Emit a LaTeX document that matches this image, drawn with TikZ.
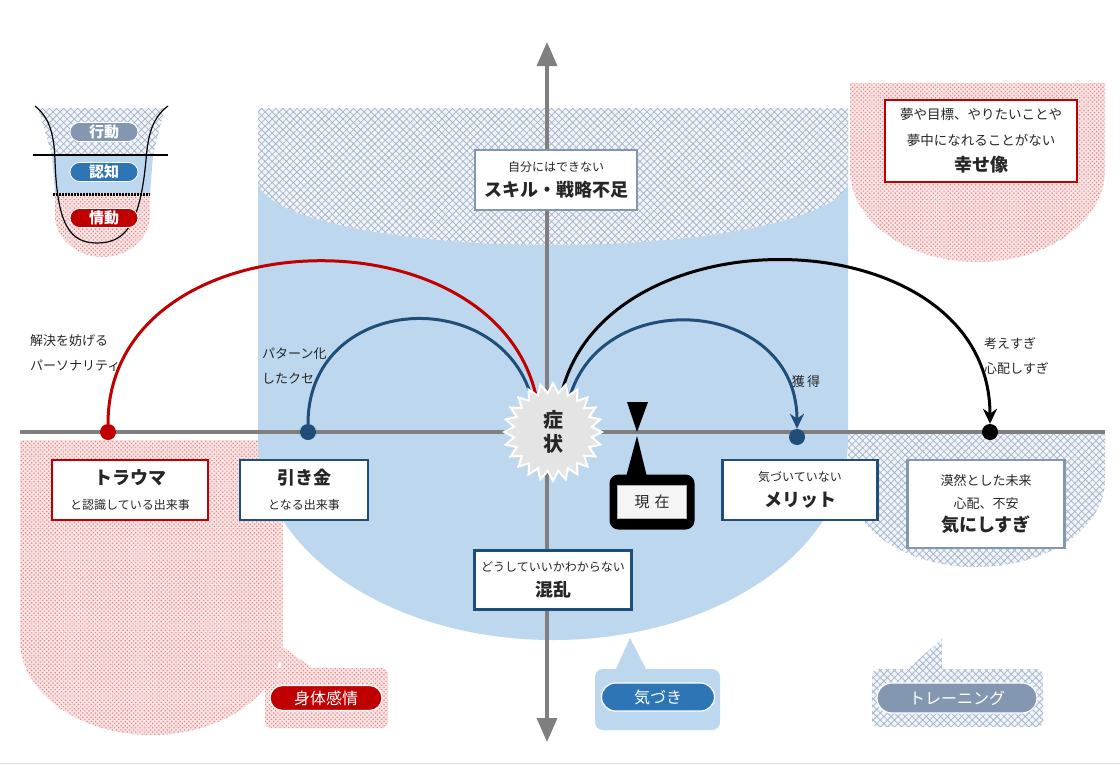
\documentclass[tikz,border=0pt]{standalone}
\usepackage{fontspec}
\setmainfont{Noto Sans CJK JP}
\usetikzlibrary{shapes.geometric,shapes.misc,patterns.meta,arrows.meta}

\definecolor{lblue}{HTML}{BDD7EE}
\definecolor{navy}{HTML}{1F4E79}
\definecolor{darkred}{HTML}{C00000}
\definecolor{slate}{HTML}{8497B0}
\definecolor{pillblue}{HTML}{2E75B6}
\definecolor{axisgray}{HTML}{7F7F7F}
\definecolor{txt}{HTML}{262626}
\definecolor{hatchbg}{HTML}{F1F4F8}
\definecolor{hatchln}{HTML}{A9B8CC}
\definecolor{pinkbg}{HTML}{F9E3E3}
\definecolor{pinkdot}{HTML}{DE8585}
\definecolor{burstgray}{HTML}{E4E4E4}

\newcommand{\subtxt}{\fontsize{12}{15}\selectfont}
\newcommand{\headtxt}{\fontsize{18}{22}\selectfont\bfseries}

\tikzset{
  slatepat/.style={preaction={fill=hatchbg}, pattern={Hatch[angle=45,distance=5pt,line width=0.8pt]}, pattern color=hatchln},
  pinkpat/.style={preaction={fill=pinkbg}, pattern={Dots[angle=45,distance=3pt,radius=0.85pt]}, pattern color=pinkdot},
  box/.style={draw=#1, line width=2.5pt, fill=white, align=center, inner sep=0pt, text=txt, font=\fontsize{12}{25}\selectfont},
  lab/.style={align=left, inner sep=0pt, text=txt, font=\fontsize{13}{25}\selectfont},
  dot/.style={circle, fill=#1, minimum size=16pt, inner sep=0pt},
  axis/.style={draw=axisgray, line width=3.5pt},
  arcline/.style={draw=#1, line width=3pt},
  burst/.style={star, star points=24, star point ratio=1.25, minimum size=98pt, fill=burstgray, draw=white, line width=2pt, align=center, inner sep=0pt, text=txt, font=\fontsize{20}{24}\selectfont\bfseries},
  pill/.style={rounded rectangle, fill=#1, draw=white, line width=1.2pt, inner sep=0pt, text=white, font=\fontsize{16}{16}\selectfont},
  minipill/.style={rounded rectangle, fill=#1, draw=white, line width=0.8pt, minimum width=68pt, minimum height=19pt, inner sep=0pt, text=white, font=\fontsize{15}{15}\selectfont\bfseries}
}

\begin{document}
\begin{tikzpicture}[x=1pt,y=-1pt]
\useasboundingbox (0,0) rectangle (1120,766);
\draw[gray!25] (0,763) -- (1120,763);

\fill[pinkpat] (20,440) -- (283,440) -- (283,640) arc[start angle=0,end angle=180,x radius=131.5,y radius=95] -- cycle;
\fill[pinkpat] (850,83) -- (1105,83) -- (1105,170) arc[start angle=0,end angle=180,x radius=127.5,y radius=92] -- cycle;
\fill[slatepat] (848,432) -- (1105,432) -- (1105,480) arc[start angle=0,end angle=180,x radius=128.5,y radius=87] -- cycle;

\fill[lblue] (258,108) -- (848,108) -- (848,440) arc[start angle=0,end angle=180,x radius=295,y radius=200] -- cycle;
\fill[slatepat] (258,108) -- (848,108) -- (848,180) arc[start angle=0,end angle=180,x radius=295,y radius=65] -- cycle;

\fill[slatepat] (38,108) -- (165,108) -- (153,155) -- (52,155) -- cycle;
\fill[lblue] (52,155) -- (153,155) -- (150,193) -- (55,193) -- cycle;
\fill[pinkpat] (55,193) -- (150,193) -- (150,215) arc[start angle=0,end angle=180,x radius=47.5,y radius=42] -- cycle;
\draw[line width=1.2pt] (35,106) .. controls (50,118) and (54,135) .. (55,160) .. controls (57,225) and (70,243) .. (97,243) .. controls (125,243) and (140,225) .. (146,160) .. controls (148,135) and (152,118) .. (168,106);
\draw[line width=1.2pt] (33,155) -- (168,155);
\draw[line width=3pt, dash pattern=on 2pt off 1pt] (53,194) -- (150,194);
\node[minipill=slate] (act) at (104,132) {行動};
\node[minipill=pillblue] (cog) at (104,172) {認知};
\node[minipill=darkred] (emo) at (104,218) {情動};

\coordinate (xl) at (20,432);
\coordinate (xr) at (1105,432);
\coordinate (yt) at (547,42);
\coordinate (yb) at (547,742);
\draw[axis] (xl) -- (xr);
\draw[axis, {Triangle[length=24pt,width=20pt]}-{Triangle[length=24pt,width=20pt]}] (yt) -- (yb);

\node[dot=darkred] (tdot) at (108,432) {};
\node[dot=navy] (kdot) at (308,432) {};
\node[dot=navy] (mdot) at (797,437) {};
\node[dot=black] (fdot) at (990,432) {};

\coordinate (rs) at (540,432);
\coordinate (ks) at (536,432);
\coordinate (bs) at (557,432);
\coordinate (ms) at (565,432);

\draw[arcline=darkred] (tdot) .. controls +(0,-227) and +(0,-227) .. (rs);
\draw[arcline=navy] (kdot) .. controls +(0,-150) and +(0,-150) .. (ks);
\draw[arcline=black, -{Stealth[length=15pt,width=14pt]}] (bs) .. controls +(0,-227) and +(0,-227) .. (fdot);
\draw[arcline=navy, -{Stealth[length=15pt,width=14pt]}] (ms) .. controls +(0,-150) and +(0,-150) .. (mdot);

\node[burst] (sym) at (553,432) {症\\状};

\fill (627,402) -- (648,402) -- (637,432) -- cycle;
\fill (637,436) -- (647,477) -- (626,477) -- cycle;
\node[fill=black, rounded corners=9pt, minimum width=85pt, minimum height=55pt] (nowf) at (652,502) {};
\node[fill=gray!8, draw=gray!60, line width=0.8pt, minimum width=69pt, minimum height=33pt, text=txt, font=\fontsize{15}{15}\selectfont] (now) at (nowf) {現\,\,在};

\node[box=slate, minimum width=162pt, minimum height=60pt] (skill) at (556,180) {{\subtxt 自分にはできない}\\{\headtxt スキル・戦略不足}};
\node[box=darkred, minimum width=192pt, minimum height=82pt, font=\fontsize{13.5}{26}\selectfont] (happy) at (981,141) {夢や目標、やりたいことや\\夢中になれることがない\\{\headtxt 幸せ像}};
\node[box=darkred, minimum width=156pt, minimum height=60pt] (trauma) at (130,490) {{\headtxt トラウマ}\\{\subtxt と認識している出来事}};
\node[box=navy, minimum width=128pt, minimum height=60pt] (trig) at (304,490) {{\headtxt 引き金}\\{\subtxt となる出来事}};
\node[box=navy, minimum width=157pt, minimum height=59pt] (conf) at (553,580) {{\subtxt どうしていいかわからない}\\{\headtxt 混乱}};
\node[box=navy, minimum width=155pt, minimum height=60pt] (merit) at (800,490) {{\subtxt 気づいていない}\\{\headtxt メリット}};
\node[box=slate, minimum width=157pt, minimum height=88pt, font=\fontsize{13}{23}\selectfont] (worry) at (986,504) {漠然とした未来\\心配、不安\\{\headtxt 気にしすぎ}};

\node[lab, anchor=west] (pers) at (30,353) {解決を妨げる\\パーソナリティ};
\node[lab, anchor=west] (habit) at (262,366) {パターン化\\したクセ};
\node[lab] (gain) at (806,382) {獲\,得};
\node[lab, anchor=west] (over) at (984,356) {考えすぎ\\心配しすぎ};

\fill[pinkpat, rounded corners=6pt] (265,668) rectangle (388,728);
\fill[pinkpat] (276,642) -- (315,670) -- (282,670) -- cycle;
\node[pill=darkred, minimum width=112pt, minimum height=25pt] (body) at (326,698) {身体感情};

\fill[lblue, rounded corners=8pt] (595,669) rectangle (720,730);
\fill[lblue] (630,638) -- (647,671) -- (615,671) -- cycle;
\node[pill=pillblue, minimum width=113pt, minimum height=28pt] (aware) at (658,697) {気づき};

\fill[slatepat, rounded corners=6pt] (872,669) rectangle (1043,727);
\fill[slatepat] (942,639) -- (942,671) -- (905,671) -- cycle;
\node[pill=slate, minimum width=160pt, minimum height=30pt] (train) at (957,698) {トレーニング};
\end{tikzpicture}
\end{document}
